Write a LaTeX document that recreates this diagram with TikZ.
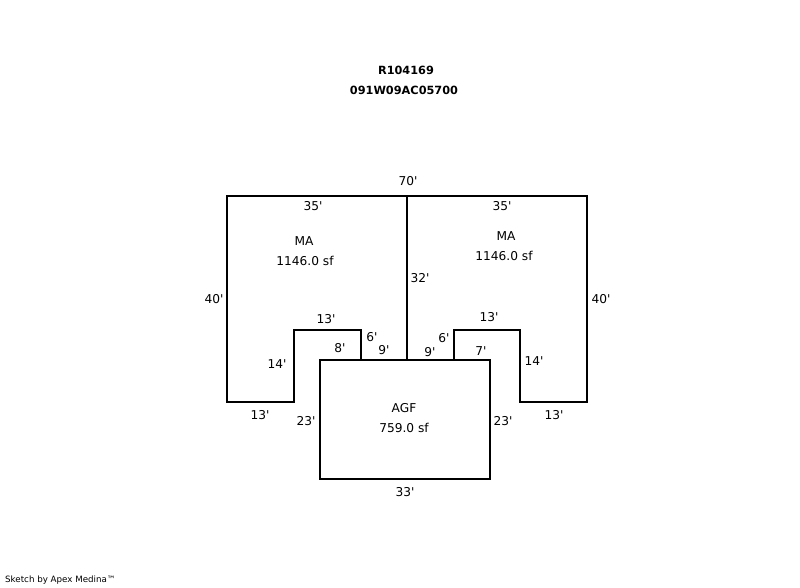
\documentclass[tikz,border=0pt]{standalone}
\usepackage{fontspec}
\setmainfont{DejaVu Sans}
\newcommand{\ft}{\textquotesingle}
\begin{document}
\begin{tikzpicture}[x=1pt,y=-1pt,wall/.style = {draw, line width=2pt, line cap=rect},
    lbl/.style = {inner sep=0pt, font=\fontsize{12.2}{14}\selectfont},
    ttl/.style = {inner sep=0pt, font=\fontsize{11.3}{13}\selectfont\bfseries}]
        \useasboundingbox (0,0) rectangle (800,587);
        \coordinate (tl) at (227,196);
        \coordinate (tm) at (407,196);
        \coordinate (tr) at (587,196);
        \coordinate (bl) at (227,402);
        \coordinate (br) at (587,402);
        \coordinate (nl1) at (294,402);
        \coordinate (nl2) at (294,330);
        \coordinate (nl3) at (361,330);
        \coordinate (nl4) at (361,359.5);
        \coordinate (nr1) at (520,402);
        \coordinate (nr2) at (520,330);
        \coordinate (nr3) at (454,330);
        \coordinate (nr4) at (454,359.5);
        \coordinate (mm) at (407,359.5);
        \coordinate (ga) at (320,359.5);
        \coordinate (gb) at (490,359.5);
        \coordinate (gc) at (490,479);
        \coordinate (gd) at (320,479);
        \draw[wall] (tl) -- (tr) -- (br) -- (nr1) -- (nr2) -- (nr3) -- (nr4);
        \draw[wall] (tl) -- (bl) -- (nl1) -- (nl2) -- (nl3) -- (nl4);
        \draw[wall] (tm) -- (mm);
        \draw[wall] (ga) -- (gb) -- (gc) -- (gd) -- cycle;
        % titles
        \node[ttl] (t1) at (406,70) {R104169};
        \node[ttl] (t2) at (404,90) {091W09AC05700};
        % areas
        \node[lbl] (ma1) at (304,241) {MA};
        \node[lbl] (sf1) at (305,261) {1146.0 sf};
        \node[lbl] (ma2) at (506,236) {MA};
        \node[lbl] (sf2) at (504,256) {1146.0 sf};
        \node[lbl] (agf) at (404,408) {AGF};
        \node[lbl] (sf3) at (404,428) {759.0 sf};
        % dimensions
        \node[lbl] (d1) at (408,181) {70\ft};
        \node[lbl] (d2) at (313,206) {35\ft};
        \node[lbl] (d3) at (502,206) {35\ft};
        \node[lbl] (d4) at (214,299) {40\ft};
        \node[lbl] (d5) at (420,278) {32\ft};
        \node[lbl] (d6) at (601,299) {40\ft};
        \node[lbl] (d7) at (326,319) {13\ft};
        \node[lbl] (d8) at (489,317) {13\ft};
        \node[lbl] (d9) at (372,337) {6\ft};
        \node[lbl] (d10) at (444,338) {6\ft};
        \node[lbl] (d11) at (340,348) {8\ft};
        \node[lbl] (d12) at (384,350) {9\ft};
        \node[lbl] (d13) at (430,352) {9\ft};
        \node[lbl] (d14) at (481,351) {7\ft};
        \node[lbl] (d15) at (277,364) {14\ft};
        \node[lbl] (d16) at (534,361) {14\ft};
        \node[lbl] (d17) at (260,415) {13\ft};
        \node[lbl] (d18) at (554,415) {13\ft};
        \node[lbl] (d19) at (306,421) {23\ft};
        \node[lbl] (d20) at (503,421) {23\ft};
        \node[lbl] (d21) at (405,492) {33\ft};
        \node[inner sep=0pt, anchor=west, font=\fontsize{8.7}{11}\selectfont] (foot) at (5,580) {Sketch by Apex Medina™};
\end{tikzpicture}
\end{document}
